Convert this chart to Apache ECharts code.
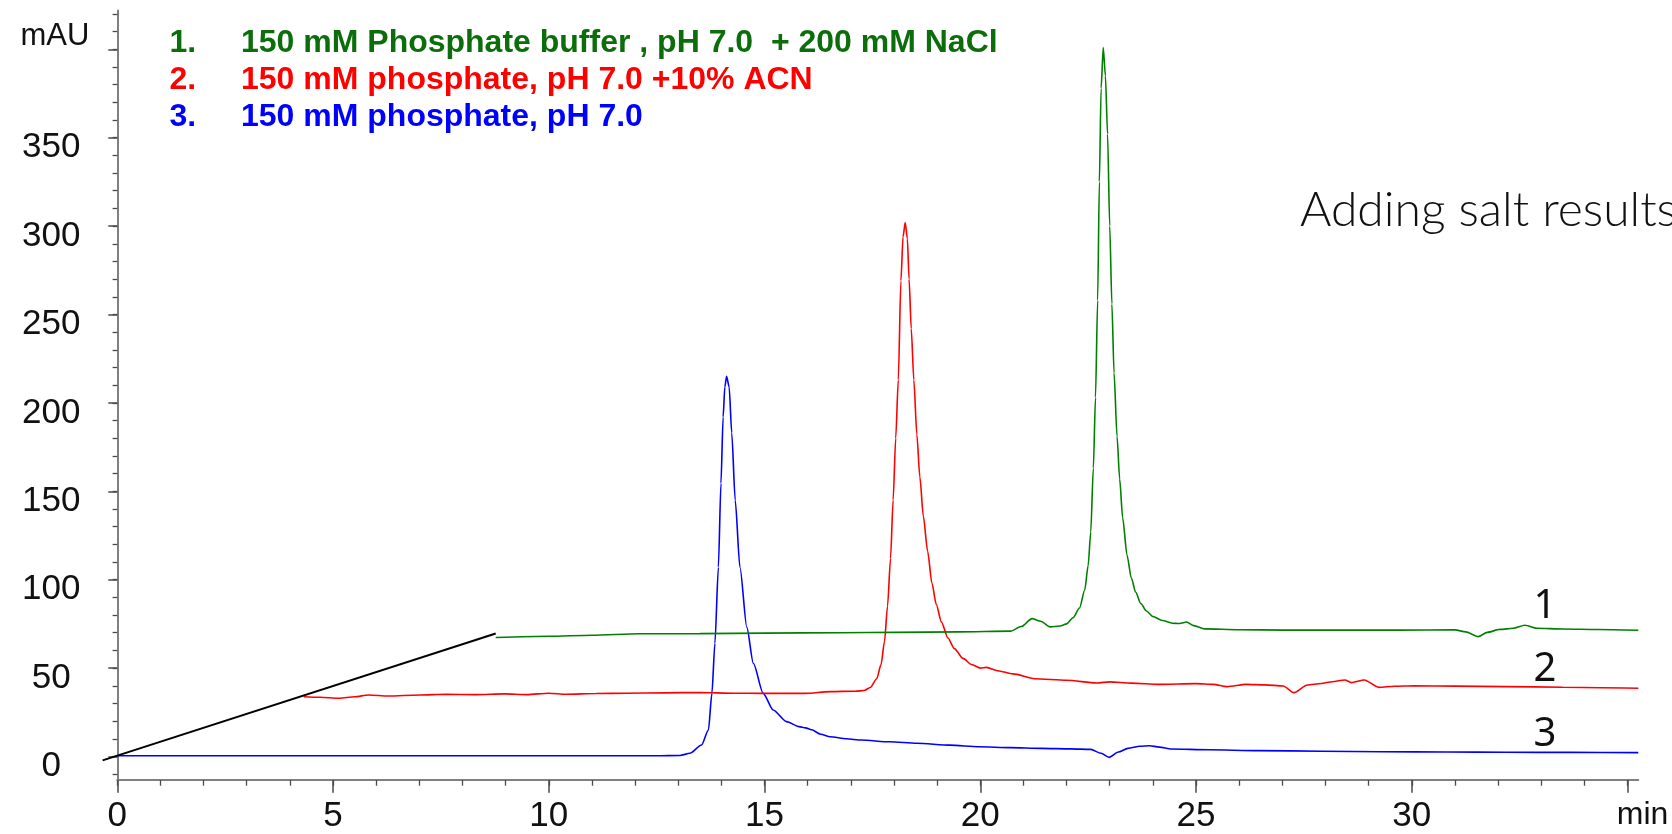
<!DOCTYPE html>
<html>
<head>
<meta charset="utf-8">
<title>SEC chromatograms – mobile phase comparison</title>
<script src="https://cdn.jsdelivr.net/npm/echarts@6/dist/echarts.min.js"></script>
<style>
  html, body { margin: 0; padding: 0; background: #fff; }
  #chart { width: 1672px; height: 834px; }
</style>
</head>
<body>
<div id="chart"></div>
<script>
// Mobile phase conditions (legend order = trace number)
const traceNames = [
  '150 mM Phosphate buffer , pH 7.0  + 200 mM NaCl',
  '150 mM phosphate, pH 7.0 +10% ACN',
  '150 mM phosphate, pH 7.0'
];

// Trace 1: phosphate + 200 mM NaCl  [time (min), absorbance (mAU)]
const trace1 = [
  [8.77, 67.3], [10.0, 68.0], [11.0, 68.6], [12.1, 69.4], [13.5, 69.5], [15.0, 69.8],
  [16.75, 70.0], [18.0, 70.2], [19.5, 70.5], [20.7, 70.9], [20.95, 73.5], [21.2, 78.0],
  [21.4, 76.5], [21.62, 73.3], [21.85, 73.8], [22.0, 75.0], [22.15, 78.5], [22.3, 84.0],
  [22.42, 94.0], [22.5, 108], [22.56, 127], [22.62, 163], [22.67, 203], [22.72, 258],
  [22.76, 325], [22.8, 378], [22.85, 401], [22.9, 385], [22.95, 352], [23.0, 300],
  [23.05, 256], [23.1, 217], [23.17, 181], [23.23, 157], [23.3, 135], [23.4, 114],
  [23.5, 101], [23.6, 93.0], [23.72, 86.5], [23.85, 82.3], [24.0, 79.2], [24.22, 76.9],
  [24.45, 75.4], [24.62, 75.2], [24.78, 76.1], [24.95, 74.0], [25.2, 72.2], [26.0, 71.7],
  [27.0, 71.5], [28.5, 71.5], [29.7, 71.5], [31.0, 71.6], [31.25, 70.5], [31.54, 67.8],
  [31.75, 70.2], [32.04, 71.9], [32.35, 72.5], [32.62, 74.2], [32.9, 72.5], [33.5, 72.1],
  [34.3, 71.8], [35.25, 71.4]
];

// Trace 2: phosphate + 10% ACN
const trace2 = [
  [4.32, 33.8], [4.7, 33.5], [5.14, 32.9], [5.5, 33.8], [5.82, 34.8], [6.28, 34.2],
  [7.0, 34.8], [7.63, 35.2], [8.3, 35.0], [8.98, 35.4], [9.49, 35.0], [10.0, 35.8],
  [10.4, 35.2], [11.1, 35.6], [11.8, 35.8], [12.7, 36.0], [13.5, 36.2], [14.3, 35.8],
  [14.94, 35.7], [15.95, 35.7], [16.52, 36.7], [17.1, 36.9], [17.31, 37.3], [17.45, 39.0],
  [17.6, 44.0], [17.7, 52.0], [17.78, 65.0], [17.85, 85.0], [17.92, 112], [17.98, 145],
  [18.04, 180], [18.1, 213], [18.16, 269], [18.21, 294], [18.26, 302], [18.31, 293],
  [18.35, 270], [18.4, 242], [18.46, 213], [18.53, 182], [18.6, 158], [18.68, 136],
  [18.78, 116], [18.88, 98.0], [18.98, 86.0], [19.1, 76.0], [19.25, 67.0], [19.4, 61.0],
  [19.6, 55.5], [19.8, 52.0], [20.0, 50.0], [20.14, 50.4], [20.4, 48.5], [20.76, 46.7],
  [21.26, 44.0], [22.0, 43.1], [22.7, 41.6], [23.0, 42.2], [23.5, 41.5], [24.14, 40.8],
  [25.0, 41.2], [25.4, 40.8], [25.72, 39.5], [26.16, 40.8], [26.6, 40.5], [27.02, 39.9],
  [27.27, 36.1], [27.58, 40.4], [27.9, 41.3], [28.16, 42.3], [28.45, 43.3], [28.6, 41.8],
  [28.9, 43.3], [29.24, 39.1], [29.6, 39.7], [30.04, 40.0], [31.0, 39.8], [32.2, 39.5],
  [33.5, 39.2], [35.25, 38.6]
];

// Trace 3: phosphate only
const trace3 = [
  [0, 0.4], [5, 0.4], [10, 0.4], [12.5, 0.4], [13.04, 0.6], [13.27, 1.8], [13.54, 6.5],
  [13.7, 15.0], [13.78, 35.7], [13.85, 64.0], [13.93, 107], [13.99, 154.5], [14.04, 192],
  [14.08, 209], [14.12, 215], [14.18, 209], [14.24, 183], [14.32, 145], [14.43, 107],
  [14.59, 73.0], [14.74, 52.7], [14.97, 35.7], [15.2, 26.3], [15.51, 19.7], [15.8, 16.9],
  [15.95, 16.2], [16.09, 15.1], [16.3, 12.6], [16.52, 11.2], [16.9, 10.0], [17.24, 9.3],
  [17.9, 8.3], [18.53, 7.5], [19.3, 6.4], [19.97, 5.5], [20.7, 5.0], [21.41, 4.6],
  [22.1, 4.3], [22.56, 4.0], [22.8, 1.8], [22.99, -0.5], [23.2, 2.5], [23.42, 4.6],
  [23.7, 5.8], [23.92, 6.1], [24.15, 5.3], [24.42, 4.2], [25.3, 3.8], [26.44, 3.3],
  [27.9, 3.0], [29.31, 2.7], [30.8, 2.5], [32.2, 2.4], [33.7, 2.3], [35.25, 2.2]
];

// Offset guide joining the staggered trace starts
const offsetGuide = [[-0.34, -2.2], [8.77, 69.6]];

// Axis ticks and labels
const timeMajorTicks = [0, 5, 10, 15, 20, 25, 30, 35];
const timeMinorTicks = Array.from({ length: 36 }, (_, i) => i);
const absMajorTicks = [0, 50, 100, 150, 200, 250, 300, 350, 400];
const absLabelTicks = [0, 50, 100, 150, 200, 250, 300, 350];
const absMinorTicks = Array.from({ length: 44 }, (_, i) => -10 + i * 10);

const traceColors = ['#008000', '#ff0000', '#0000ff'];
const legendColors = ['#0b6e0b', '#ff0000', '#0000ff'];
const curveTags = ['1', '2', '3'];

const X_MIN = 0, X_MAX = 35.25, Y_MIN = -13.3, Y_MAX = 422;
const GUIDE_X_MIN = -0.5;
const PX_PER_MIN = 43.15;
const GRID = { left: 117.3, right: 33.7, top: 10.4, bottom: 54 };
const axisGrey = '#808080';
const tickGrey = '#4a4a4a';
const labelFont = '"Liberation Sans", Arial, sans-serif';

const chart = echarts.init(document.getElementById('chart'));

const option = {
  animation: false,
  backgroundColor: '#ffffff',
  grid: [
    { left: GRID.left, right: GRID.right, top: GRID.top, bottom: GRID.bottom, containLabel: false },
    // same scale, widened to the left so the guide can start before t = 0
    { left: GRID.left + GUIDE_X_MIN * PX_PER_MIN, right: GRID.right, top: GRID.top, bottom: GRID.bottom, containLabel: false }
  ],
  legend: {
    orient: 'vertical',
    left: 164.5,
    top: 27.4,
    padding: 0,
    itemGap: 5,
    itemWidth: 0,
    itemHeight: 0,
    icon: 'none',
    selectedMode: false,
    data: traceNames.map((n, i) => ({ name: n, textStyle: { color: legendColors[i] } })),
    formatter: name => '{n|' + (traceNames.indexOf(name) + 1) + '.}{t|' + name + '}',
    textStyle: {
      fontFamily: labelFont,
      fontWeight: 'bold',
      fontSize: 32,
      rich: {
        n: { width: 71.5, fontFamily: labelFont, fontWeight: 'bold', fontSize: 32 },
        t: { fontFamily: labelFont, fontWeight: 'bold', fontSize: 32 }
      }
    }
  },
  xAxis: [
    {
      type: 'value', gridIndex: 0, min: X_MIN, max: X_MAX, position: 'bottom',
      splitLine: { show: false },
      axisLine: { show: true, onZero: false, lineStyle: { color: axisGrey, width: 2 } },
      axisTick: { show: true, customValues: timeMajorTicks, length: 12.7, lineStyle: { color: tickGrey, width: 1.5 } },
      axisLabel: {
        customValues: timeMajorTicks,
        margin: 19,
        fontFamily: labelFont, fontSize: 35, color: '#111',
        formatter: v => (v === 35 ? '{m|min}' : String(v)),
        rich: { m: { fontFamily: labelFont, fontSize: 32, color: '#111', padding: [0, 0, 0, 30] } }
      }
    },
    {
      type: 'value', gridIndex: 0, min: X_MIN, max: X_MAX, position: 'bottom',
      splitLine: { show: false },
      axisLine: { show: false, onZero: false },
      axisTick: { show: true, customValues: timeMinorTicks, length: 5.7, lineStyle: { color: tickGrey, width: 1.3 } },
      axisLabel: { show: false }
    },
    {
      type: 'value', gridIndex: 1, min: GUIDE_X_MIN, max: X_MAX, show: false
    }
  ],
  yAxis: [
    {
      type: 'value', gridIndex: 0, min: Y_MIN, max: Y_MAX, position: 'left',
      splitLine: { show: false },
      axisLine: { show: true, onZero: false, lineStyle: { color: axisGrey, width: 2 } },
      axisTick: { show: true, customValues: absMajorTicks, length: 9, lineStyle: { color: tickGrey, width: 1.5 } },
      axisLabel: {
        customValues: absLabelTicks,
        margin: 66,
        align: 'center',
        verticalAlign: 'top',
        lineHeight: 20,
        fontFamily: labelFont, fontSize: 35, color: '#111'
      },
      name: 'mAU',
      nameLocation: 'end',
      nameGap: -26.3,
      nameTextStyle: {
        fontFamily: labelFont, fontSize: 31, color: '#111',
        align: 'right', verticalAlign: 'middle', padding: [0, 28, 0, 0]
      }
    },
    {
      type: 'value', gridIndex: 0, min: Y_MIN, max: Y_MAX, position: 'left',
      splitLine: { show: false },
      axisLine: { show: false, onZero: false },
      axisTick: { show: true, customValues: absMinorTicks, length: 4.7, lineStyle: { color: tickGrey, width: 1.3 } },
      axisLabel: { show: false }
    },
    {
      type: 'value', gridIndex: 1, min: Y_MIN, max: Y_MAX, show: false
    }
  ],
  series: [
    ...[trace1, trace2, trace3].map((d, i) => ({
      name: traceNames[i],
      type: 'line',
      data: d,
      xAxisIndex: 0, yAxisIndex: 0,
      showSymbol: false,
      smooth: 0.25,
      smoothMonotone: 'x',
      lineStyle: { color: traceColors[i], width: 1.6 },
      itemStyle: { color: traceColors[i] },
      z: 3 - i
    })),
    {
      name: 'offset guide',
      type: 'line',
      data: offsetGuide,
      xAxisIndex: 2, yAxisIndex: 2,
      showSymbol: false,
      clip: false,
      lineStyle: { color: '#000', width: 2 },
      z: 5
    }
  ],
  graphic: [
    {
      type: 'text', x: 1300, y: 211,
      style: {
        text: 'Adding salt results',
        verticalAlign: 'middle',
        font: '300 48px Lato, "Noto Sans", sans-serif',
        fill: '#111'
      }
    },
    ...curveTags.map((t, i) => ({
      type: 'text',
      x: 1545, y: [607, 670, 734.5][i],
      style: {
        text: t, align: 'center', verticalAlign: 'middle',
        font: '40px "Noto Sans", "Open Sans", sans-serif', fill: '#111'
      }
    }))
  ]
};

chart.setOption(option);
</script>
</body>
</html>
